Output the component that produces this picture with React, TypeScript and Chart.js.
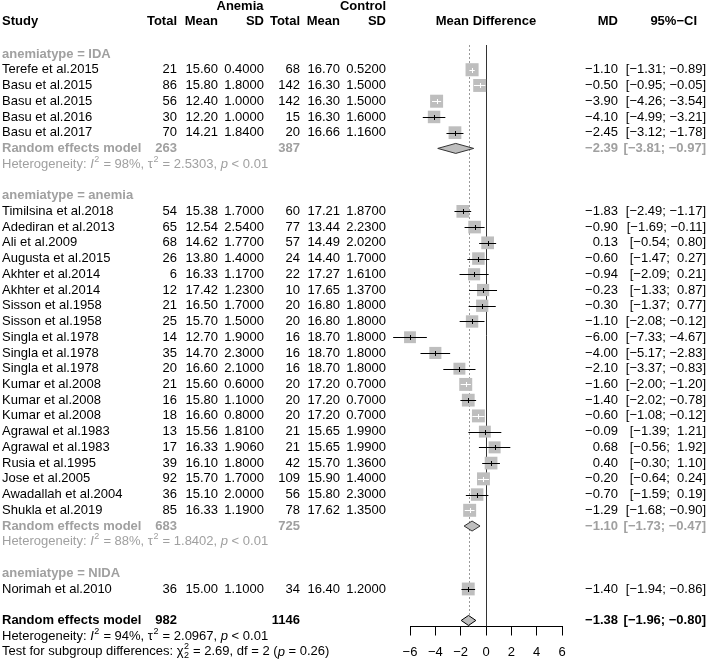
import React, { useEffect, useRef } from 'react';
import { Chart, registerables } from 'chart.js';

Chart.register(...registerables);

// ---------------- data ----------------
const groupLabels = ['anemiatype = IDA', 'anemiatype = anemia', 'anemiatype = NIDA'];

const studyNames = [
  'Terefe et al.2015', 'Basu et al.2015', 'Basu et al.2015', 'Basu et al.2016', 'Basu et al.2017',
  'Timilsina et al.2018', 'Adediran et al.2013', 'Ali et al.2009', 'Augusta et al.2015',
  'Akhter et al.2014', 'Akhter et al.2014', 'Sisson et al.1958', 'Sisson et al.1958',
  'Singla et al.1978', 'Singla et al.1978', 'Singla et al.1978', 'Kumar et al.2008',
  'Kumar et al.2008', 'Kumar et al.2008', 'Agrawal et al.1983', 'Agrawal et al.1983',
  'Rusia et al.1995', 'Jose et al.2005', 'Awadallah et al.2004', 'Shukla et al.2019',
  'Norimah et al.2010',
];
const studyGroup = [0, 0, 0, 0, 0, 1, 1, 1, 1, 1, 1, 1, 1, 1, 1, 1, 1, 1, 1, 1, 1, 1, 1, 1, 1, 2];

const totalE = [21, 86, 56, 30, 70, 54, 65, 68, 26, 6, 12, 21, 25, 14, 35, 20, 21, 16, 18, 13, 17, 39, 92, 36, 85, 36];
const meanE = [15.6, 15.8, 12.4, 12.2, 14.21, 15.38, 12.54, 14.62, 13.8, 16.33, 17.42, 16.5, 15.7, 12.7, 14.7, 16.6, 15.6, 15.8, 16.6, 15.56, 16.33, 16.1, 15.7, 15.1, 16.33, 15.0];
const sdE = [0.4, 1.8, 1.0, 1.0, 1.84, 1.7, 2.54, 1.77, 1.4, 1.17, 1.23, 1.7, 1.5, 1.9, 2.3, 2.1, 0.6, 1.1, 0.8, 1.81, 1.906, 1.8, 1.7, 2.0, 1.19, 1.1];
const totalC = [68, 142, 142, 15, 20, 60, 77, 57, 24, 22, 10, 20, 20, 16, 16, 16, 20, 20, 20, 21, 21, 42, 109, 56, 78, 34];
const meanC = [16.7, 16.3, 16.3, 16.3, 16.66, 17.21, 13.44, 14.49, 14.4, 17.27, 17.65, 16.8, 16.8, 18.7, 18.7, 18.7, 17.2, 17.2, 17.2, 15.65, 15.65, 15.7, 15.9, 15.8, 17.62, 16.4];
const sdC = [0.52, 1.5, 1.5, 1.6, 1.16, 1.87, 2.23, 2.02, 1.7, 1.61, 1.37, 1.8, 1.8, 1.8, 1.8, 1.8, 0.7, 0.7, 0.7, 1.99, 1.99, 1.36, 1.4, 2.3, 1.35, 1.2];

const md = [-1.1, -0.5, -3.9, -4.1, -2.45, -1.83, -0.9, 0.13, -0.6, -0.94, -0.23, -0.3, -1.1, -6.0, -4.0, -2.1, -1.6, -1.4, -0.6, -0.09, 0.68, 0.4, -0.2, -0.7, -1.29, -1.4];
const ciLow = [-1.31, -0.95, -4.26, -4.99, -3.12, -2.49, -1.69, -0.54, -1.47, -2.09, -1.33, -1.37, -2.08, -7.33, -5.17, -3.37, -2.0, -2.02, -1.08, -1.39, -0.56, -0.3, -0.64, -1.59, -1.68, -1.94];
const ciHigh = [-0.89, -0.05, -3.54, -3.21, -1.78, -1.17, -0.11, 0.8, 0.27, 0.21, 0.87, 0.77, -0.12, -4.67, -2.83, -0.83, -1.2, -0.78, -0.12, 1.21, 1.92, 1.1, 0.24, 0.19, -0.9, -0.86];
// random-effects weights (%)
const weights = [4.16, 4.08, 4.12, 3.81, 3.96, 3.97, 3.89, 3.96, 3.82, 3.6, 3.64, 3.66, 3.74, 3.43, 3.58, 3.48, 4.1, 3.99, 4.07, 3.46, 3.51, 3.94, 4.09, 3.81, 4.1, 4.03];

// subgroup summaries (null = single-study subgroup)
const subTotalE = [263, 683, null];
const subTotalC = [387, 725, null];
const subMD = [-2.39, -1.1, null];
const subLow = [-3.81, -1.73, null];
const subHigh = [-0.97, -0.47, null];
const subI2 = [98, 88, null];
const subTau2 = [2.5303, 1.8402, null];

const overallTotalE = 982;
const overallTotalC = 1146;
const overallMD = -1.38;
const overallLow = -1.96;
const overallHigh = -0.8;
const overallI2 = 94;
const overallTau2 = 2.0967;
const testChi2 = 2.69;
const testDf = 2;
const testP = 0.26;

const xTicks = [-6, -4, -2, 0, 2, 4, 6];

// ---------------- layout helpers ----------------
const FONT = '"Liberation Sans", Arial, Helvetica, sans-serif';
const GRAY_TEXT = '#a0a0a0';
const BOX = '#bebebe';
const COL = { study: 2, totalE: 177, meanE: 218, sdE: 264, totalC: 300, meanC: 340, sdC: 386, md: 618, ci: 706, ciHead: 697, anemia: 240, control: 363 };

const minus = (s: string) => s.replace('-', '\u2212');
const f2 = (v: number) => minus(v.toFixed(2));
const f4 = (v: number) => minus(v.toFixed(4));
const pad = (v: number) => (v >= 0 ? ' ' : '') + f2(v);
const ciText = (lo: number, hi: number) => `[${pad(lo)}; ${pad(hi)}]`;

type Row =
  | { kind: 'label'; group: number }
  | { kind: 'study'; idx: number }
  | { kind: 'sub'; group: number }
  | { kind: 'het'; group: number }
  | { kind: 'overall' }
  | { kind: 'overallHet' }
  | { kind: 'test' }
  | { kind: 'blank' };

const rows: Row[] = [];
groupLabels.forEach((_, g) => {
  rows.push({ kind: 'label', group: g });
  studyNames.forEach((_, i) => {
    if (studyGroup[i] === g) rows.push({ kind: 'study', idx: i });
  });
  if (subMD[g] !== null) {
    rows.push({ kind: 'sub', group: g });
    rows.push({ kind: 'het', group: g });
  }
  rows.push({ kind: 'blank' });
});
rows.push({ kind: 'overall' });
rows.push({ kind: 'overallHet' });
rows.push({ kind: 'test' });

const studyRow: number[] = [];
rows.forEach((r, i) => {
  if (r.kind === 'study') studyRow[r.idx] = i;
});

const boxSide = (w: number) => 6.4 * Math.sqrt(w);

type Part = { t: string; italic?: boolean; sup?: string; sub?: string };

function drawRich(ctx: CanvasRenderingContext2D, x: number, y: number, parts: Part[], color: string) {
  ctx.fillStyle = color;
  ctx.textAlign = 'left';
  ctx.textBaseline = 'middle';
  let cx = x;
  for (const p of parts) {
    ctx.font = `${p.italic ? 'italic ' : ''}13px ${FONT}`;
    ctx.fillText(p.t, cx, y);
    cx += ctx.measureText(p.t).width;
    let adv = 0;
    if (p.sup || p.sub) {
      ctx.font = `9px ${FONT}`;
      if (p.sup) {
        ctx.fillText(p.sup, cx + 0.5, y - 5);
        adv = Math.max(adv, ctx.measureText(p.sup).width);
      }
      if (p.sub) {
        ctx.fillText(p.sub, cx + 0.5, y + 4);
        adv = Math.max(adv, ctx.measureText(p.sub).width);
      }
      cx += adv + 1;
    }
  }
}

function hetParts(i2: number, tau2: number): Part[] {
  return [
    { t: 'Heterogeneity: ' },
    { t: 'I', italic: true, sup: '2' },
    { t: ` = ${i2}%, ` },
    { t: '\u03c4', sup: '2' },
    { t: ` = ${tau2.toFixed(4)}, ` },
    { t: 'p', italic: true },
    { t: ' < 0.01' },
  ];
}

function drawDiamond(ctx: CanvasRenderingContext2D, xs: any, y: number, m: number, lo: number, hi: number, stroke: string) {
  const h = 5;
  ctx.beginPath();
  ctx.moveTo(xs.getPixelForValue(lo), y);
  ctx.lineTo(xs.getPixelForValue(m), y - h);
  ctx.lineTo(xs.getPixelForValue(hi), y);
  ctx.lineTo(xs.getPixelForValue(m), y + h);
  ctx.closePath();
  ctx.fillStyle = BOX;
  ctx.fill();
  ctx.lineWidth = 1;
  ctx.strokeStyle = stroke;
  ctx.stroke();
}

const forestPlugin = {
  id: 'forest',
  beforeDatasetsDraw(chart: any) {
    const { ctx, chartArea } = chart;
    const xs = chart.scales.x;
    ctx.save();
    // overall effect dotted line
    const xo = Math.round(xs.getPixelForValue(overallMD)) + 0.5;
    ctx.strokeStyle = '#9a9a9a';
    ctx.lineWidth = 1;
    ctx.setLineDash([2, 2]);
    ctx.beginPath();
    ctx.moveTo(xo, chartArea.top);
    ctx.lineTo(xo, chartArea.bottom);
    ctx.stroke();
    ctx.setLineDash([]);
    // line of no effect
    const x0 = Math.round(xs.getPixelForValue(0)) + 0.5;
    ctx.strokeStyle = '#333';
    ctx.beginPath();
    ctx.moveTo(x0, chartArea.top);
    ctx.lineTo(x0, chartArea.bottom);
    ctx.stroke();
    ctx.restore();
  },
  afterDatasetsDraw(chart: any) {
    const { ctx, chartArea } = chart;
    const xs = chart.scales.x;
    const ys = chart.scales.y;
    const Y = (r: number) => ys.getPixelForValue(r);
    ctx.save();

    // confidence intervals
    studyNames.forEach((_, i) => {
      const y = Math.round(Y(studyRow[i])) + 0.5;
      const x1 = xs.getPixelForValue(ciLow[i]);
      const x2 = xs.getPixelForValue(ciHigh[i]);
      const xm = Math.round(xs.getPixelForValue(md[i])) + 0.5;
      const inside = x2 - x1 < boxSide(weights[i]);
      ctx.strokeStyle = inside ? '#ffffff' : '#000000';
      ctx.lineWidth = 1;
      ctx.beginPath();
      ctx.moveTo(x1, y);
      ctx.lineTo(x2, y);
      ctx.moveTo(xm, y - 2.5);
      ctx.lineTo(xm, y + 2.5);
      ctx.stroke();
    });

    // diamonds
    rows.forEach((r, ri) => {
      if (r.kind === 'sub') {
        drawDiamond(ctx, xs, Y(ri), subMD[r.group]!, subLow[r.group]!, subHigh[r.group]!, '#333');
      } else if (r.kind === 'overall') {
        drawDiamond(ctx, xs, Y(ri), overallMD, overallLow, overallHigh, '#000');
      }
    });

    // text
    const text = (s: string, x: number, y: number, align: CanvasTextAlign, bold: boolean, color: string) => {
      ctx.font = `${bold ? 'bold ' : ''}13px ${FONT}`;
      ctx.fillStyle = color;
      ctx.textAlign = align;
      ctx.textBaseline = 'middle';
      ctx.fillText(s, x, y);
    };
    const midX = (chartArea.left + chartArea.right) / 2;

    // headers
    const yh1 = Y(-3.05);
    const yh2 = Y(-2.05);
    text('Anemia', COL.anemia, yh1, 'center', true, '#000');
    text('Control', COL.control, yh1, 'center', true, '#000');
    text('Study', COL.study, yh2, 'left', true, '#000');
    text('Total', COL.totalE, yh2, 'right', true, '#000');
    text('Mean', COL.meanE, yh2, 'right', true, '#000');
    text('SD', COL.sdE, yh2, 'right', true, '#000');
    text('Total', COL.totalC, yh2, 'right', true, '#000');
    text('Mean', COL.meanC, yh2, 'right', true, '#000');
    text('SD', COL.sdC, yh2, 'right', true, '#000');
    text('Mean Difference', midX, yh2, 'center', true, '#000');
    text('MD', COL.md, yh2, 'right', true, '#000');
    text('95%\u2212CI', COL.ciHead, yh2, 'right', true, '#000');

    rows.forEach((r, ri) => {
      const y = Y(ri);
      if (r.kind === 'label') {
        text(groupLabels[r.group], COL.study, y, 'left', true, GRAY_TEXT);
      } else if (r.kind === 'study') {
        const i = r.idx;
        text(studyNames[i], COL.study, y, 'left', false, '#000');
        text(String(totalE[i]), COL.totalE, y, 'right', false, '#000');
        text(f2(meanE[i]), COL.meanE, y, 'right', false, '#000');
        text(f4(sdE[i]), COL.sdE, y, 'right', false, '#000');
        text(String(totalC[i]), COL.totalC, y, 'right', false, '#000');
        text(f2(meanC[i]), COL.meanC, y, 'right', false, '#000');
        text(f4(sdC[i]), COL.sdC, y, 'right', false, '#000');
        text(f2(md[i]), COL.md, y, 'right', false, '#000');
        text(ciText(ciLow[i], ciHigh[i]), COL.ci, y, 'right', false, '#000');
      } else if (r.kind === 'sub') {
        const g = r.group;
        text('Random effects model', COL.study, y, 'left', true, GRAY_TEXT);
        text(String(subTotalE[g]), COL.totalE, y, 'right', true, GRAY_TEXT);
        text(String(subTotalC[g]), COL.totalC, y, 'right', true, GRAY_TEXT);
        text(f2(subMD[g]!), COL.md, y, 'right', true, GRAY_TEXT);
        text(ciText(subLow[g]!, subHigh[g]!), COL.ci, y, 'right', true, GRAY_TEXT);
      } else if (r.kind === 'het') {
        drawRich(ctx, COL.study, y, hetParts(subI2[r.group]!, subTau2[r.group]!), GRAY_TEXT);
      } else if (r.kind === 'overall') {
        text('Random effects model', COL.study, y, 'left', true, '#000');
        text(String(overallTotalE), COL.totalE, y, 'right', true, '#000');
        text(String(overallTotalC), COL.totalC, y, 'right', true, '#000');
        text(f2(overallMD), COL.md, y, 'right', true, '#000');
        text(ciText(overallLow, overallHigh), COL.ci, y, 'right', true, '#000');
      } else if (r.kind === 'overallHet') {
        drawRich(ctx, COL.study, y, hetParts(overallI2, overallTau2), '#000');
      } else if (r.kind === 'test') {
        drawRich(ctx, COL.study, y, [
          { t: 'Test for subgroup differences: ' },
          { t: '\u03c7', sup: '2', sub: String(testDf) },
          { t: ` = ${testChi2.toFixed(2)}, df = ${testDf} (` },
          { t: 'p', italic: true },
          { t: ` = ${testP.toFixed(2)})` },
        ], '#000');
      }
    });
    ctx.restore();
  },
};

export default function App() {
  const ref = useRef<HTMLCanvasElement>(null);
  useEffect(() => {
    if (!ref.current) return;
    const chart = new Chart(ref.current, {
      type: 'scatter',
      data: {
        datasets: [
          {
            data: studyNames.map((_, i) => ({ x: md[i], y: studyRow[i] })),
            pointStyle: 'rect',
            pointRadius: weights.map((w) => boxSide(w) / Math.SQRT2),
            pointHoverRadius: weights.map((w) => boxSide(w) / Math.SQRT2),
            backgroundColor: BOX,
            borderWidth: 0,
            clip: false,
          } as any,
        ],
      },
      options: {
        responsive: false,
        animation: false,
        events: [],
        layout: { padding: { left: 410, right: 146, top: 45, bottom: 0 } },
        plugins: { legend: { display: false }, tooltip: { enabled: false } },
        scales: {
          x: {
            type: 'linear',
            min: xTicks[0],
            max: xTicks[xTicks.length - 1],
            afterBuildTicks: (scale: any) => {
              scale.ticks = xTicks.map((v) => ({ value: v }));
            },
            afterFit: (scale: any) => {
              scale.height = 33.5;
            },
            ticks: {
              autoSkip: false,
              maxRotation: 0,
              padding: 9,
              color: '#000',
              font: { family: FONT, size: 13 },
              callback: (v: any) => minus(String(v)),
            },
            grid: { drawOnChartArea: false, drawTicks: true, tickLength: 9, color: '#000', lineWidth: 1 },
            border: { display: true, color: '#000', width: 1 },
          },
          y: {
            type: 'linear',
            display: false,
            reverse: true,
            min: -0.572,
            max: 36.385,
          },
        },
      },
      plugins: [forestPlugin],
    });
    return () => chart.destroy();
  }, []);
  return (
    <div style={{ position: 'absolute', left: 0, top: 0, width: 708, height: 660, background: '#fff' }}>
      <canvas ref={ref} width={708} height={660} style={{ display: 'block', width: 708, height: 660 }} />
    </div>
  );
}
